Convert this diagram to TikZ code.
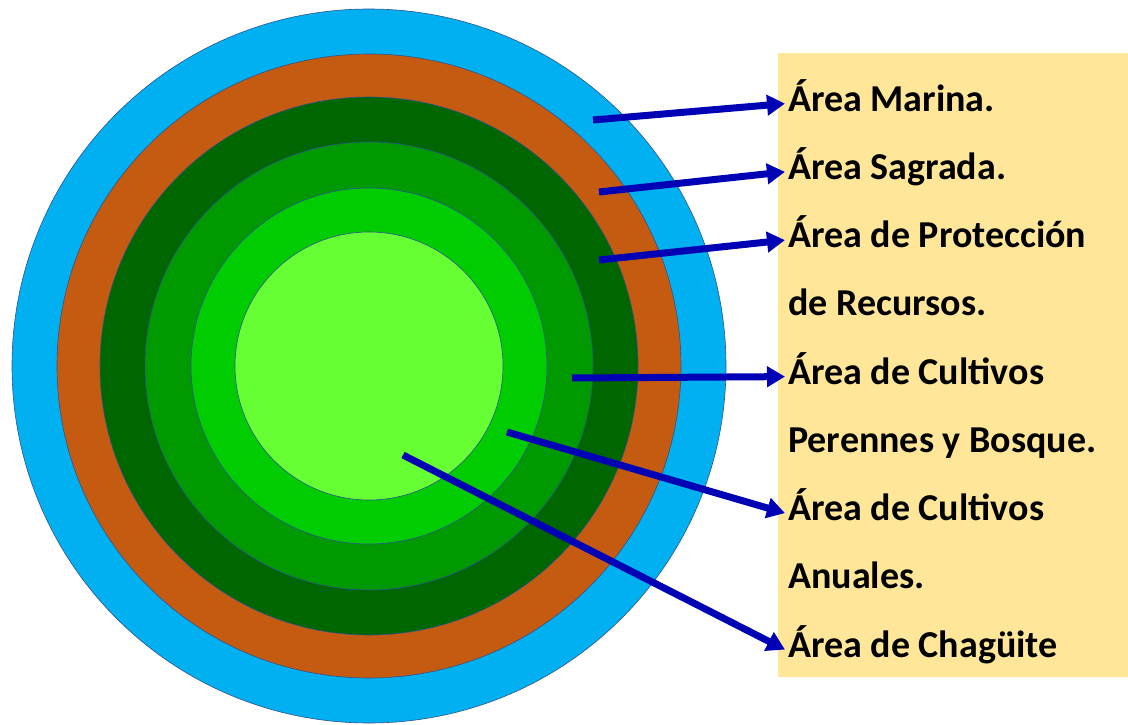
\documentclass[tikz,border=0pt]{standalone}
\usepackage{fontspec}
\setmainfont{Carlito}
\usepackage{tikz}
\usetikzlibrary{calc}
\usetikzlibrary{arrows.meta}
\tikzset{>={Triangle[length=18pt,width=20pt]}}
\definecolor{marina}{RGB}{0,176,240}
\definecolor{sagrada}{RGB}{197,90,17}
\definecolor{proteccion}{RGB}{0,102,0}
\definecolor{perennes}{RGB}{0,153,0}
\definecolor{anuales}{RGB}{0,204,0}
\definecolor{chaguite}{RGB}{102,255,51}
\definecolor{borde}{RGB}{47,82,143}
\definecolor{flecha}{RGB}{0,0,180}
\definecolor{caja}{RGB}{255,230,153}
\tikzset{zona/.style={draw=borde, line width=0.6pt},
	etiqueta/.style={anchor=base west, inner sep=0pt, font=\fontsize{38}{46}\selectfont\bfseries},
	flechita/.style={draw=flecha, line width=7pt, ->}}

\begin{document}
\begin{tikzpicture}[x=1pt,y=-1pt]
			\useasboundingbox (0,0) rectangle (1128,725);
			\coordinate (C) at (369,366);
			% anillos
			\fill[zona, fill=marina] (C) circle[radius=357pt];
			\fill[zona, fill=sagrada] (C) circle[radius=312pt];
			\fill[zona, fill=proteccion] (C) circle[radius=269pt];
			\fill[zona, fill=perennes] (C) circle[radius=224pt];
			\fill[zona, fill=anuales] (C) circle[radius=178pt];
			\fill[zona, fill=chaguite] (C) circle[radius=134pt];
			% recuadro
			\fill[caja] (778,53) rectangle (1128,677);
			\node[etiqueta] (m) at (788,111) {Área Marina.};
			\node[etiqueta] (s) at (788,179.25) {Área Sagrada.};
			\node[etiqueta] (p) at (788,247.5) {Área de Protección};
			\node[etiqueta] (p2) at (788,315.75) {de Recursos.};
			\node[etiqueta] (cp) at (788,384) {Área de Cultivos};
			\node[etiqueta] (cp2) at (788,452.25) {Perennes y Bosque.};
			\node[etiqueta] (ca) at (788,520.5) {Área de Cultivos};
			\node[etiqueta] (ca2) at (788,588.75) {Anuales.};
			\node[etiqueta] (ch) at (788,657) {Área de Chagüite};
			\coordinate (Mar) at (593,120);
			\coordinate (Sag) at (599,192);
			\coordinate (Pro) at (599,260);
			\coordinate (Per) at (572,378);
			\coordinate (Anu) at (507,432);
			\coordinate (Cha) at (403,455);
			\draw[flechita] (Mar)--([yshift=5pt,xshift=-3pt]m.mid west);
			\draw[flechita] (Sag)--([yshift=5pt,xshift=-3pt]s.mid west);
			\draw[flechita] (Pro)--([yshift=5pt,xshift=-3pt]p.mid west);
			\draw[flechita] (Per)--([yshift=5pt,xshift=-3pt]cp.mid west);
			\draw[flechita] (Anu)--([yshift=5pt,xshift=-3pt]ca.mid west);
			\draw[flechita] (Cha)--([yshift=5pt,xshift=-3pt]ch.mid west);
		\end{tikzpicture}
\end{document}
